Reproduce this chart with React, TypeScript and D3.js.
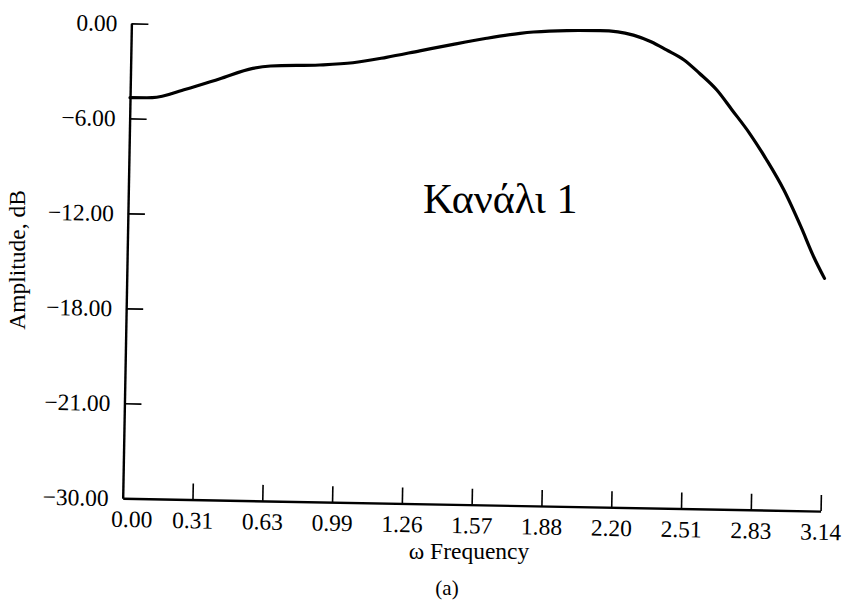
import React, { useEffect, useRef } from 'react';
import * as d3 from 'd3';

// curve (rad, dB)
const freq = [0, 0.1, 0.25, 0.4, 0.55, 0.63, 0.85, 1.0, 1.15, 1.3, 1.45, 1.6, 1.75, 1.81, 1.96, 2.11, 2.19, 2.26, 2.34, 2.41, 2.49, 2.56, 2.64, 2.71, 2.79, 2.87, 2.95, 3.03, 3.09, 3.14];
const amp = [-4.69, -4.67, -4.1, -3.41, -2.7, -2.53, -2.41, -2.23, -1.85, -1.4, -0.95, -0.53, -0.18, -0.08, 0.05, 0.08, 0.03, -0.16, -0.56, -1.06, -1.67, -2.49, -3.53, -4.77, -6.21, -7.89, -9.77, -12.08, -13.96, -15.3];

const xTickLabels = ['0.00', '0.31', '0.63', '0.99', '1.26', '1.57', '1.88', '2.20', '2.51', '2.83', '3.14'];
const yTickValues = [0, -6, -12, -18, -24, -30];
const yTickLabels = ['0.00', '\u22126.00', '\u221212.00', '\u221218.00', '\u221221.00', '\u221230.00'];

const App = () => {
  const ref = useRef(null);

  useEffect(() => {
    const svg = d3.select(ref.current);
    svg.selectAll('*').remove();

    const width = 843;
    const height = 610;
    const font = '"Liberation Serif", "DejaVu Serif", serif';
    const origin = { x: 122.7, y: 498.3 };
    const plotW = 698;
    const plotH = 475;

    svg.attr('width', width).attr('height', height);

    const x = d3.scaleLinear().domain([0, Math.PI]).range([0, plotW]);
    const y = d3.scaleLinear().domain([-30, 0]).range([0, -plotH]);

    const xTicks = xTickLabels.map((_, i) => (i * Math.PI) / 10);

    // the scanned page is tilted about a degree
    const g = svg.append('g')
      .attr('transform', `translate(${origin.x},${origin.y}) rotate(1.05)`);

    // Axes
    const xAxis = g.append('g')
      .call(d3.axisBottom(x)
        .tickValues(xTicks)
        .tickFormat((d, i) => xTickLabels[i])
        .tickSizeInner(-16)
        .tickSizeOuter(0)
        .tickPadding(12));

    const yAxis = g.append('g')
      .call(d3.axisLeft(y)
        .tickValues(yTickValues)
        .tickFormat((d, i) => yTickLabels[i])
        .tickSizeInner(-17)
        .tickSizeOuter(0)
        .tickPadding(14));

    [xAxis, yAxis].forEach(a => {
      a.attr('font-family', font).attr('font-size', 23.5);
      a.select('.domain').attr('stroke', '#000').attr('stroke-width', 2.4);
      a.selectAll('.tick line').attr('stroke', '#000').attr('stroke-width', 1.6);
      a.selectAll('.tick text').attr('fill', '#000');
    });
    // first x label sits right of the corner
    xAxis.select('.tick text').attr('dx', 9);
    // no extra tick at the origin
    xAxis.select('.tick line').remove();
    yAxis.selectAll('.tick line').filter(d => d === -30).remove();

    // Line
    const pts = freq.map((f, i) => ({ f, a: amp[i] }));
    const line = d3.line()
      .x(d => x(d.f))
      .y(d => y(d.a))
      .curve(d3.curveMonotoneX);

    g.append('path')
      .datum(pts)
      .attr('fill', 'none')
      .attr('stroke', '#000')
      .attr('stroke-width', 3.2)
      .attr('stroke-linecap', 'round')
      .attr('d', line);

    // Axis Labels
    svg.append('text')
      .attr('transform', 'translate(25,260) rotate(-90)')
      .attr('text-anchor', 'middle')
      .attr('font-family', font)
      .attr('font-size', 23.5)
      .text('Amplitude, dB');

    svg.append('text')
      .attr('x', 469)
      .attr('y', 559)
      .attr('text-anchor', 'middle')
      .attr('font-family', font)
      .attr('font-size', 23.5)
      .text('\u03c9 Frequency');

    svg.append('text')
      .attr('x', 447)
      .attr('y', 595)
      .attr('text-anchor', 'middle')
      .attr('font-family', font)
      .attr('font-size', 21)
      .text('(a)');

    svg.append('text')
      .attr('x', 423)
      .attr('y', 213)
      .attr('font-family', font)
      .attr('font-size', 42)
      .text('Καν\u03acλι 1');
  }, []);

  return <svg ref={ref} style={{ position: 'absolute', left: 0, top: 0 }}></svg>;
};

export default App;
